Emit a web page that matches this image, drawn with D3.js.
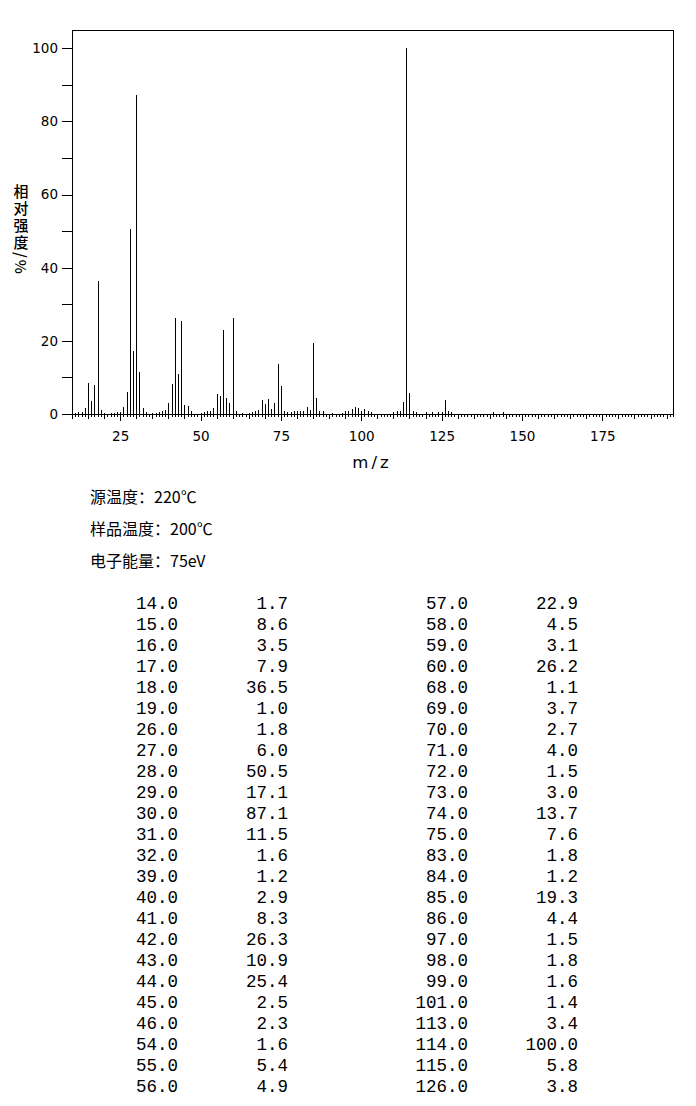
<!DOCTYPE html>
<html>
<head>
<meta charset="utf-8">
<script src="https://cdn.jsdelivr.net/npm/d3@7"></script>
<style>
  body { margin: 0; background: #fff; }
  svg { display: block; }
</style>
</head>
<body>
<div class="ms_chart"></div>
<script>
// page size
let svg_width = 696;
let svg_height = 1106;

// plot box
let box_left = 72, box_right = 673, box_top = 30, box_bottom = 414;

// peaks listed in the table (m/z, relative intensity)
let table_mz = [14, 15, 16, 17, 18, 19, 26, 27, 28, 29, 30, 31, 32, 39, 40, 41, 42, 43, 44, 45, 46, 54, 55, 56,
                57, 58, 59, 60, 68, 69, 70, 71, 72, 73, 74, 75, 83, 84, 85, 86, 97, 98, 99, 101, 113, 114, 115, 126];
let table_int = [1.7, 8.6, 3.5, 7.9, 36.5, 1.0, 1.8, 6.0, 50.5, 17.1, 87.1, 11.5, 1.6, 1.2, 2.9, 8.3, 26.3, 10.9, 25.4, 2.5, 2.3, 1.6, 5.4, 4.9,
                 22.9, 4.5, 3.1, 26.2, 1.1, 3.7, 2.7, 4.0, 1.5, 3.0, 13.7, 7.6, 1.8, 1.2, 19.3, 4.4, 1.5, 1.8, 1.6, 1.4, 3.4, 100.0, 5.8, 3.8];

// small peaks seen only in the plot (below 1 %)
let minor_mz = [11, 12, 13, 20, 22, 23, 24, 25, 33, 35, 36, 37, 38, 47, 50, 51, 52, 53,
                61, 63, 65, 66, 67, 76, 77, 78, 79, 80, 81, 82, 87, 88, 91, 94, 95, 96,
                100, 102, 103, 110, 111, 112, 116, 117, 120, 122, 124, 125, 127, 128, 141, 144];
let minor_int = [0.4, 0.6, 0.6, 0.4, 0.3, 0.3, 0.5, 0.6, 0.5, 0.3, 0.4, 0.6, 0.8, 0.8, 0.3, 0.5, 0.7, 0.9,
                 0.8, 0.3, 0.4, 0.6, 0.8, 0.8, 0.6, 0.6, 0.7, 0.9, 0.9, 0.8, 0.9, 0.8, 0.4, 0.4, 0.7, 0.9,
                 0.9, 0.8, 0.5, 0.5, 0.7, 0.8, 0.9, 0.5, 0.5, 0.5, 0.5, 0.6, 0.9, 0.5, 0.6, 0.5];

// axis ticks
let y_ticks = d3.range(0, 101, 10);
let x_ticks = d3.range(10, 198, 1);
let x_labels = [25, 50, 75, 100, 125, 150, 175];

// instrument settings
let info_lines = ['源温度：220℃', '样品温度：200℃', '电子能量：75eV'];
let y_title = '相对强度/%';

// scales
let x_scale = d3.scaleLinear().domain([10, 197]).range([box_left, box_right]);
let y_scale = d3.scaleLinear().domain([0, 105]).range([box_bottom, box_top]);

let svg = d3.select('.ms_chart')
            .append('svg')
            .attr('width', svg_width)
            .attr('height', svg_height);

// ================================================
function insertPeaks(svg) {
    let peaks = table_mz.map(function (m, i) { return { mz: m, v: table_int[i] }; })
                .concat(minor_mz.map(function (m, i) { return { mz: m, v: minor_int[i] }; }));
    svg.append('g')
        .selectAll('line')
        .data(peaks)
        .enter()
        .append('line')
        .attr('x1', function (d) { return Math.round(x_scale(d.mz)) + 0.5; })
        .attr('x2', function (d) { return Math.round(x_scale(d.mz)) + 0.5; })
        .attr('y1', y_scale(0))
        .attr('y2', function (d) { return y_scale(d.v); })
        .attr('stroke', '#000')
        .attr('stroke-width', 1)
        .attr('shape-rendering', 'crispEdges');
}

function insertAxes(svg) {
    // y axis
    let y_axis = d3.axisLeft(y_scale)
                   .tickValues(y_ticks)
                   .tickSize(10)
                   .tickSizeOuter(0)
                   .tickPadding(4)
                   .tickFormat(function (d) { return d % 20 === 0 ? d : ''; });
    let gy = svg.append('g')
                .attr('transform', 'translate(' + box_left + ',0)')
                .call(y_axis);

    // x axis, tick length depends on the value
    let x_axis = d3.axisBottom(x_scale)
                   .tickValues(x_ticks)
                   .tickSize(3)
                   .tickSizeOuter(0)
                   .tickPadding(14)
                   .tickFormat(function (d) { return x_labels.indexOf(d) >= 0 ? d : ''; });
    let gx = svg.append('g')
                .attr('transform', 'translate(0,' + box_bottom + ')')
                .call(x_axis);
    gx.selectAll('.tick line')
      .attr('y2', function (d) { return d % 25 === 0 ? 7 : (d % 5 === 0 ? 5 : 3); });

    [gx, gy].forEach(function (g) {
        g.selectAll('path, line').attr('stroke', '#000').attr('shape-rendering', 'crispEdges');
        g.selectAll('text')
         .attr('fill', '#000')
         .attr('font-family', '"DejaVu Sans", Verdana, sans-serif')
         .attr('font-size', 13.5);
    });

    // frame: top and right edges
    svg.append('path')
        .attr('d', 'M' + box_left + ',' + box_top + 'H' + box_right + 'V' + box_bottom)
        .attr('fill', 'none')
        .attr('stroke', '#000')
        .attr('shape-rendering', 'crispEdges');

    // axis titles
    svg.append('text')
        .text('m/z')
        .attr('x', 372)
        .attr('y', 468)
        .attr('text-anchor', 'middle')
        .attr('letter-spacing', 3)
        .attr('font-family', '"DejaVu Sans", sans-serif')
        .attr('font-size', 16.5);

    // vertical title: CJK upright, "/%" turned sideways
    svg.append('text')
        .text(y_title)
        .attr('x', 21)
        .attr('y', 184)
        .style('writing-mode', 'vertical-rl')
        .attr('letter-spacing', 2)
        .attr('font-family', '"Noto Sans CJK SC", sans-serif')
        .attr('font-weight', 500)
        .attr('font-size', 15);
}

function insertInfo(svg) {
    svg.selectAll('.info')
        .data(info_lines)
        .enter()
        .append('text')
        .attr('class', 'info')
        .text(function (d) { return d; })
        .attr('x', 90)
        .attr('y', function (d, i) { return 503 + i * 32; })
        .attr('font-family', '"Noto Sans CJK SC", serif')
        .attr('font-size', 16);
}

function insertTable(svg) {
    let rows = table_mz.length / 2;
    let col_x = [178, 288, 468, 578];
    let cells = [];
    table_mz.forEach(function (m, i) {
        let c = i < rows ? 0 : 2;
        let r = i % rows;
        cells.push({ t: m.toFixed(1), x: col_x[c], r: r });
        cells.push({ t: table_int[i].toFixed(1), x: col_x[c + 1], r: r });
    });
    svg.append('g')
        .selectAll('text')
        .data(cells)
        .enter()
        .append('text')
        .text(function (d) { return d.t; })
        .attr('x', function (d) { return d.x; })
        .attr('y', function (d) { return 609 + d.r * 21; })
        .attr('text-anchor', 'end')
        .attr('font-family', '"Liberation Mono", "Courier New", monospace')
        .attr('font-size', 17.5);
}

insertPeaks(svg);
insertAxes(svg);
insertInfo(svg);
insertTable(svg);
</script>
</body>
</html>
